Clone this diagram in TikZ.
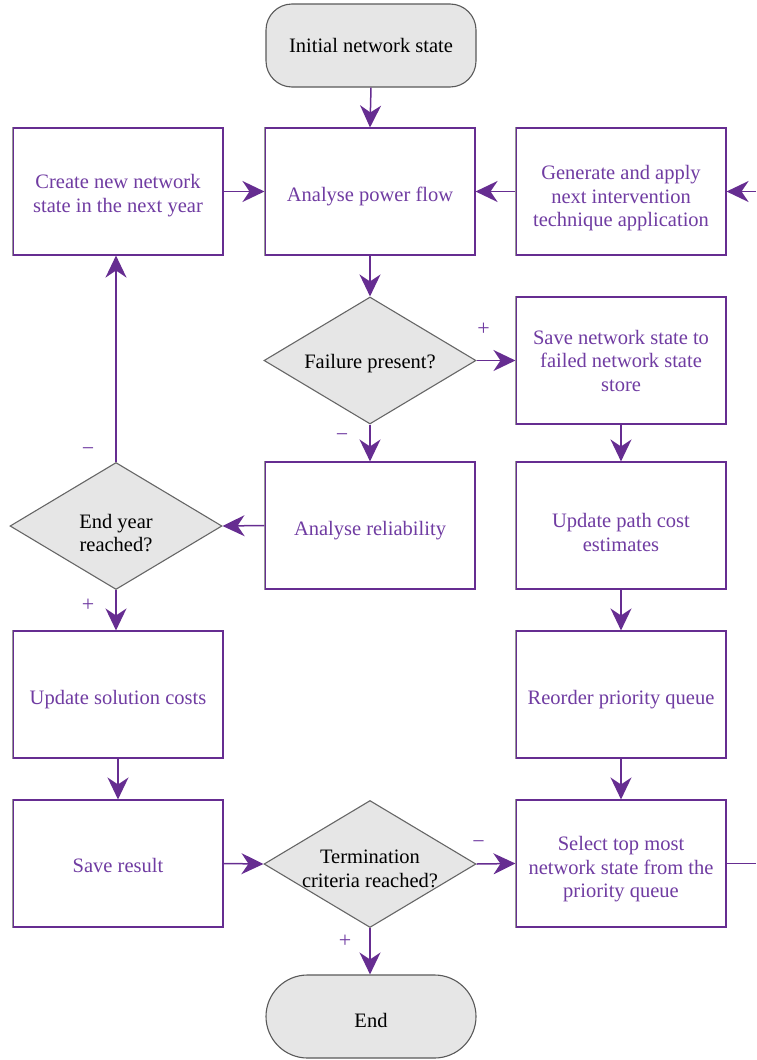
\documentclass[tikz,border=0pt]{standalone}
\usepackage{fontspec}
\setmainfont{Liberation Serif}
\usetikzlibrary{shapes.geometric,shapes.misc,arrows.meta}
\definecolor{purp}{RGB}{102,45,145}
\definecolor{ptext}{RGB}{112,60,162}
\definecolor{lgray}{RGB}{230,230,230}
\definecolor{bgray}{RGB}{150,150,150}
\tikzset{
  box/.style={draw=purp, line width=1.1pt, fill=white, minimum width=210pt, minimum height=127pt,
    inner sep=0pt},
  btext/.style={align=center, text=ptext, font=\fontsize{20.5}{23.5}\selectfont, inner sep=0pt},
  term/.style={draw=black!65, line width=1.1pt, fill=lgray, rounded rectangle, minimum width=210pt,
    minimum height=83pt, inner sep=0pt, align=center, font=\fontsize{20.5}{23.5}\selectfont},
  startbox/.style={draw=black!65, line width=1.1pt, fill=lgray, rounded corners=26pt, minimum width=210pt,
    minimum height=83pt, inner sep=0pt, align=center, font=\fontsize{20.5}{23.5}\selectfont},
  dia/.style={draw=black!60, line width=1.1pt, fill=lgray, diamond, minimum width=212pt, minimum height=127pt,
    inner sep=0pt},
  dtext/.style={align=center, font=\fontsize{20.5}{23.5}\selectfont, inner sep=0pt},
  arr/.style={draw=purp, line width=1.5pt, -{Stealth[length=22pt,width=21pt,inset=7pt]}},
  ln/.style={draw=purp, line width=1.5pt},
  sgn/.style={text=ptext, font=\fontsize{22}{24}\selectfont, inner sep=0pt},
}
\begin{document}
\begin{tikzpicture}[x=1pt,y=-1pt]
\useasboundingbox (0,0) rectangle (756,1060);
% nodes
\node[startbox] (init) at (371,45.5) {Initial network state};
\node[box] (create) at (118,191.5) {};
\node[btext] (createt) at ([yshift=-4pt]create.center) {Create new network\\state in the next year};
\node[box] (pf) at (370,191.5) {};
\node[btext] (pft) at ([yshift=-5pt]pf.center) {Analyse power flow};
\node[box] (gen) at (621,191.5) {};
\node[btext] (gent) at ([yshift=-7pt]gen.center) {Generate and apply\\next intervention\\technique application};
\node[dia] (fail) at (370,360.5) {};
\node[dtext] (failt) at ([yshift=-3pt]fail.center) {Failure present?};
\node[box] (save) at (621,360.5) {};
\node[btext] (savet) at (save.center) {Save network state to\\failed network state\\store};
\node[dia] (endy) at (116,526) {};
\node[dtext] (endyt) at ([yshift=-7pt]endy.center) {End year\\reached?};
\node[box] (rel) at (370,525.5) {};
\node[btext] (relt) at ([yshift=-5pt]rel.center) {Analyse reliability};
\node[box] (upc) at (621,525.5) {};
\node[btext] (upct) at ([yshift=-7pt]upc.center) {Update path cost\\estimates};
\node[box] (usc) at (118,694.5) {};
\node[btext] (usct) at ([yshift=-5pt]usc.center) {Update solution costs};
\node[box] (reo) at (621,694.5) {};
\node[btext] (reot) at ([yshift=-5pt]reo.center) {Reorder priority queue};
\node[box] (saver) at (118,863.5) {};
\node[btext] (savert) at ([yshift=-2pt]saver.center) {Save result};
\node[dia] (tc) at (370,864) {};
\node[dtext] (tct) at ([yshift=-5pt]tc.center) {Termination\\criteria reached?};
\node[box] (sel) at (621,863.5) {};
\node[btext] (selt) at ([yshift=-6pt]sel.center) {Select top most\\network state from the\\priority queue};
\node[term] (end) at (371,1016.5) {\rule{0pt}{22pt}End};
% gray left edges of boxes
\foreach \n in {create,pf,gen,save,rel,upc,usc,reo,saver,sel}{
  \draw[bgray, line width=1.1pt] (\n.north west) -- (\n.south west);
}
\coordinate (rin) at (756,191.5);
\coordinate (rout) at (756,863.5);
% connectors
\draw[arr] (init.south) -- (pf.north);
\draw[arr] (create.east) -- (pf.west);
\draw[arr] (gen.west) -- (pf.east);
\draw[arr] (rin) -- (gen.east);
\draw[arr] (pf.south) -- (fail.north);
\draw[arr] (fail.east) -- (save.west);
\draw[arr] (fail.south) -- (rel.north);
\draw[arr] (save.south) -- (upc.north);
\draw[arr] (rel.west) -- (endy.east);
\draw[arr] (endy.north) -- (endy.north |- create.south);
\draw[arr] (endy.south) -- (endy.south |- usc.north);
\draw[arr] (upc.south) -- (reo.north);
\draw[arr] (usc.south) -- (saver.north);
\draw[arr] (reo.south) -- (sel.north);
\draw[arr] (saver.east) -- (tc.west);
\draw[arr] (tc.east) -- (sel.west);
\draw[arr] (tc.south) -- (tc.south |- end.north);
\draw[ln] (sel.east) -- (rout);
% signs
\node[sgn] (s1) at ([shift={(7,-31)}]fail.east) {+};
\node[sgn] (s2) at ([shift={(-28,13)}]fail.south) {−};
\node[sgn] (s3) at ([shift={(-28,-10)}]endy.north) {−};
\node[sgn] (s4) at ([shift={(-28,15)}]endy.south) {+};
\node[sgn] (s5) at ([shift={(2,-19)}]tc.east) {−};
\node[sgn] (s6) at ([shift={(-25,13)}]tc.south) {+};
\end{tikzpicture}
\end{document}
